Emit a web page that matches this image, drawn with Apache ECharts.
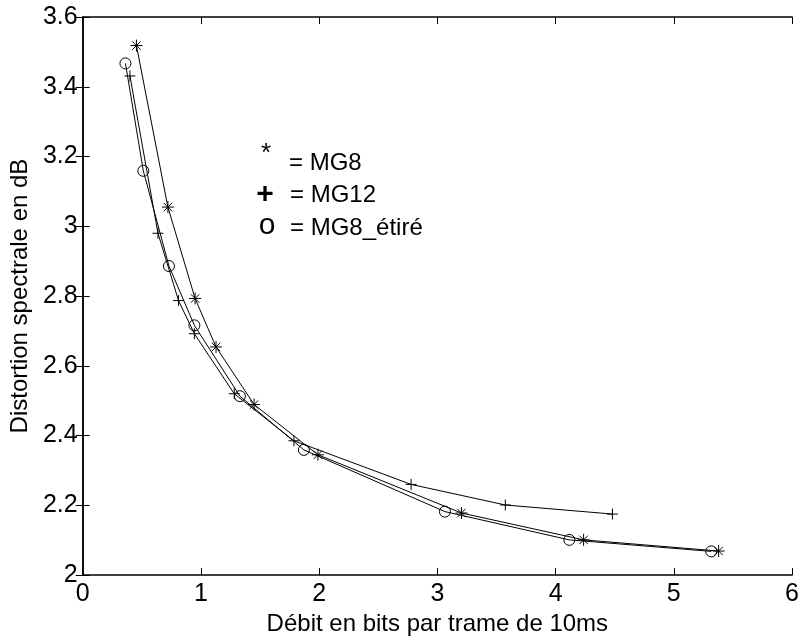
<!DOCTYPE html>
<html lang="fr">
<head>
  <meta charset="UTF-8">
  <title>Distortion spectrale</title>
  <script src="https://cdn.jsdelivr.net/npm/echarts@6/dist/echarts.min.js"></script>
</head>
<body style="margin:0;background:#fff;">
  <div id="main" style="width:802px;height:641px;"></div>
<script>
  // valeurs
  const xMG8 = [0.455, 0.721, 0.951, 1.128, 1.45, 1.99, 3.204, 4.237, 5.379];
  const yMG8 = [3.518, 3.055, 2.793, 2.654, 2.489, 2.345, 2.178, 2.101, 2.069];
  const xMG12 = [0.40, 0.637, 0.811, 0.945, 1.282, 1.787, 2.778, 3.575, 4.481];
  const yMG12 = [3.431, 2.980, 2.787, 2.692, 2.520, 2.385, 2.260, 2.201, 2.175];
  const xEtire = [0.362, 0.513, 0.73, 0.945, 1.33, 1.871, 3.064, 4.116, 5.317];
  const yEtire = [3.467, 3.159, 2.886, 2.716, 2.513, 2.359, 2.182, 2.101, 2.068];
  const xTicks = [0, 6, 1];
  const yTicks = [2, 3.6, 0.2];

  const font = 'Liberation Sans, Arial, sans-serif';
  const starPath = 'path://M0,-10L0,10M-10,0L10,0M-7,-7L7,7M-7,7L7,-7';
  const plusPath = 'path://M0,-10L0,10M-10,0L10,0';

  function pairs(xs, ys) {
    return xs.map((x, i) => [x, ys[i]]);
  }

  function makeSeries(name, xs, ys, symbol, size) {
    return {
      name: name,
      type: 'line',
      data: pairs(xs, ys),
      symbol: symbol,
      symbolSize: size,
      showAllSymbol: true,
      lineStyle: { color: '#000', width: 1 },
      itemStyle: { color: 'rgba(0,0,0,0)', borderColor: '#000', borderWidth: 1 },
      emphasis: { disabled: true },
      z: 3
    };
  }

  function legendText(x, y, text, f, align) {
    return {
      type: 'text', x: x, y: y,
      style: { text: text, font: f, fill: '#000', align: align, verticalAlign: 'middle' }
    };
  }

  const tickStyle = { inside: true, length: 7, lineStyle: { color: '#000', width: 1 } };
  const lineAxis = { show: true, lineStyle: { color: '#000', width: 1.5 } };

  let myChart = echarts.init(document.getElementById('main'));
  let option = {
    backgroundColor: '#fff',
    animation: false,
    grid: { left: 81, right: 8, top: 17, bottom: 59 },
    xAxis: [{
      type: 'value',
      min: xTicks[0], max: xTicks[1], interval: xTicks[2],
      name: 'Débit en bits par trame de 10ms',
      nameLocation: 'middle',
      nameGap: 33,
      nameTextStyle: { fontFamily: font, fontSize: 24, color: '#000' },
      axisLine: lineAxis,
      axisTick: tickStyle,
      axisLabel: { fontFamily: font, fontSize: 25, color: '#000', margin: 7 },
      splitLine: { show: false }
    }, {
      type: 'value', position: 'top',
      min: xTicks[0], max: xTicks[1], interval: xTicks[2],
      axisLine: lineAxis, axisTick: tickStyle,
      axisLabel: { show: false }, splitLine: { show: false }
    }],
    yAxis: [{
      type: 'value',
      min: yTicks[0], max: yTicks[1], interval: yTicks[2],
      name: 'Distortion spectrale en dB',
      nameLocation: 'middle',
      nameGap: 40,
      nameTextStyle: { fontFamily: font, fontSize: 24, color: '#000' },
      axisLine: lineAxis,
      axisTick: tickStyle,
      axisLabel: {
        fontFamily: font, fontSize: 25, color: '#000', margin: 5,
        formatter: v => String(Math.round(v * 10) / 10)
      },
      splitLine: { show: false }
    }, {
      type: 'value', position: 'right',
      min: yTicks[0], max: yTicks[1], interval: yTicks[2],
      axisLine: lineAxis, axisTick: tickStyle,
      axisLabel: { show: false }, splitLine: { show: false }
    }],
    graphic: [
      legendText(266, 154, '*', '26px ' + font, 'center'),
      legendText(289, 163, '= MG8', '24px ' + font, 'left'),
      legendText(265, 195, '+', 'bold 30px ' + font, 'center'),
      legendText(290, 195, '= MG12', '24px ' + font, 'left'),
      legendText(267, 226, 'o', '30px ' + font, 'center'),
      legendText(290, 228, '= MG8_étiré', '24px ' + font, 'left')
    ],
    series: [
      makeSeries('MG8', xMG8, yMG8, starPath, 12),
      makeSeries('MG12', xMG12, yMG12, plusPath, 11),
      makeSeries('MG8_étiré', xEtire, yEtire, 'circle', 11)
    ]
  };
  myChart.setOption(option, true);
</script>
</body>
</html>
